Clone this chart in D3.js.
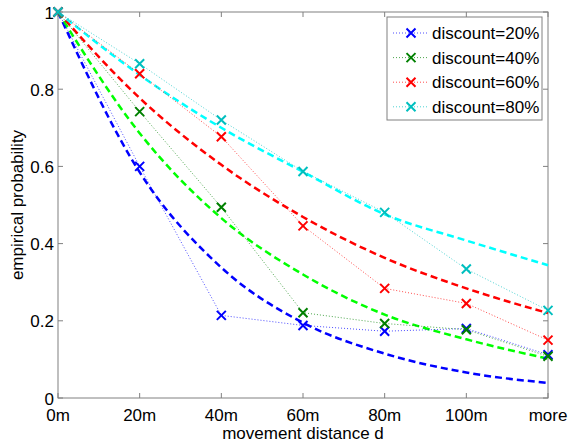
<!DOCTYPE html>
<html>
<head>
<meta charset="utf-8">
<script src="https://cdn.jsdelivr.net/npm/d3@7"></script>
<style>
  body { margin: 0; background: #fff; }
  text { font-family: Arial, "Liberation Sans", Helvetica, sans-serif; fill: #000; }
</style>
</head>
<body>
<svg id="chart" width="568" height="445"></svg>
<script>
// categories on the x axis
const distances = ['0m', '20m', '40m', '60m', '80m', '100m', 'more'];
const yTicks = [0, 0.2, 0.4, 0.6, 0.8, 1];

// observed (dotted, x markers)
const obs20 = [1, 0.600, 0.214, 0.188, 0.173, 0.180, 0.112];
const obs40 = [1, 0.742, 0.494, 0.221, 0.193, 0.177, 0.108];
const obs60 = [1, 0.840, 0.677, 0.446, 0.284, 0.245, 0.150];
const obs80 = [1, 0.866, 0.720, 0.587, 0.481, 0.334, 0.227];

const fit20 = [1, 0.585, 0.338, 0.195, 0.115, 0.066, 0.039];
const fit40 = [1, 0.686, 0.466, 0.320, 0.216, 0.152, 0.102];
const fit60 = [1, 0.777, 0.604, 0.469, 0.363, 0.284, 0.220];
const fit80 = [1, 0.837, 0.700, 0.586, 0.476, 0.408, 0.344];

const legendLabels = ['discount=20%', 'discount=40%', 'discount=60%', 'discount=80%'];

const series = [
  { obs: obs20, fit: fit20, mark: '#0000ff', dot: '#0000ff', dash: '#0000ff' },
  { obs: obs40, fit: fit40, mark: '#008000', dot: '#008000', dash: '#00ff00' },
  { obs: obs60, fit: fit60, mark: '#ff0000', dot: '#ff0000', dash: '#ff0000' },
  { obs: obs80, fit: fit80, mark: '#00bfbf', dot: '#00bfbf', dash: '#00ffff' },
];

const svg = d3.select('#chart');
const plotLeft = 58, plotRight = 548, plotTop = 12, plotBottom = 398;

const x = d3.scalePoint()
  .domain(distances)
  .range([plotLeft, plotRight]);

const y = d3.scaleLinear()
  .domain([0, 1])
  .range([plotBottom, plotTop]);

const axisColor = '#808080';

// frame
svg.append('rect')
    .attr('x', plotLeft)
    .attr('y', plotTop)
    .attr('width', plotRight - plotLeft)
    .attr('height', plotBottom - plotTop)
    .attr('fill', 'none')
    .attr('stroke', axisColor)
    .attr('stroke-width', 1);

// inward ticks on all four sides
const tickLen = 5;
distances.forEach(d => {
  svg.append('line')
      .attr('x1', x(d)).attr('x2', x(d))
      .attr('y1', plotBottom).attr('y2', plotBottom - tickLen)
      .attr('stroke', axisColor);
  svg.append('line')
      .attr('x1', x(d)).attr('x2', x(d))
      .attr('y1', plotTop).attr('y2', plotTop + tickLen)
      .attr('stroke', axisColor);
});
yTicks.forEach(v => {
  svg.append('line')
      .attr('x1', plotLeft).attr('x2', plotLeft + tickLen)
      .attr('y1', y(v)).attr('y2', y(v))
      .attr('stroke', axisColor);
  svg.append('line')
      .attr('x1', plotRight).attr('x2', plotRight - tickLen)
      .attr('y1', y(v)).attr('y2', y(v))
      .attr('stroke', axisColor);
});

// tick labels
svg.append('g')
  .selectAll('text')
  .data(distances)
  .join('text')
    .attr('x', d => x(d))
    .attr('y', 421)
    .attr('text-anchor', 'middle')
    .attr('font-size', 17)
    .text(d => d);

svg.append('g')
  .selectAll('text')
  .data(yTicks)
  .join('text')
    .attr('x', plotLeft - 4)
    .attr('y', d => y(d) + 6.5)
    .attr('text-anchor', 'end')
    .attr('font-size', 17)
    .text(d => d3.format('~g')(d));

// axis titles
svg.append('text')
    .attr('x', (plotLeft + plotRight) / 2)
    .attr('y', 439)
    .attr('text-anchor', 'middle')
    .attr('font-size', 17)
    .text('movement distance d');

svg.append('text')
    .attr('transform', `translate(23, 205) rotate(-90)`)
    .attr('text-anchor', 'middle')
    .attr('font-size', 17)
    .text('empirical probability');

const plot = svg.append('g');

const fitLine = d3.line()
  .x((d, i) => x(distances[i]))
  .y(d => y(d))
  .curve(d3.curveMonotoneX);

const obsLine = d3.line()
  .x((d, i) => x(distances[i]))
  .y(d => y(d));

// dashed fitted curves
series.forEach(s => {
  plot.append('path')
      .datum(s.fit)
      .attr('d', fitLine)
      .attr('fill', 'none')
      .attr('stroke', s.dash)
      .attr('stroke-width', 2.5)
      .attr('stroke-dasharray', '7,4');
});

const drawX = (g, cx, cy, color, r) => {
  g.append('path')
      .attr('d', `M${cx - r},${cy - r}L${cx + r},${cy + r}M${cx - r},${cy + r}L${cx + r},${cy - r}`)
      .attr('stroke', color)
      .attr('stroke-width', 2)
      .attr('fill', 'none');
};

// dotted observed lines with x markers
series.forEach(s => {
  plot.append('path')
      .datum(s.obs)
      .attr('d', obsLine)
      .attr('fill', 'none')
      .attr('stroke', s.dot)
      .attr('stroke-opacity', 0.7)
      .attr('stroke-width', 1)
      .attr('stroke-dasharray', '1,2');
  s.obs.forEach((v, i) => drawX(plot, x(distances[i]), y(v), s.mark, 4.5));
});

// legend
const legend = svg.append('g')
    .attr('transform', 'translate(387, 17)');

legend.append('rect')
    .attr('width', 155)
    .attr('height', 103)
    .attr('fill', '#fff')
    .attr('stroke', axisColor);

legendLabels.forEach((label, i) => {
  const ly = 16 + i * 24.6;
  const s = series[i];
  legend.append('line')
      .attr('x1', 6).attr('x2', 40)
      .attr('y1', ly).attr('y2', ly)
      .attr('stroke', s.dot)
      .attr('stroke-opacity', 0.7)
      .attr('stroke-dasharray', '1,2');
  drawX(legend, 24, ly, s.mark, 4.5);
  legend.append('text')
      .attr('x', 45)
      .attr('y', ly + 6)
      .attr('font-size', 17)
      .text(label);
});
</script>
</body>
</html>
